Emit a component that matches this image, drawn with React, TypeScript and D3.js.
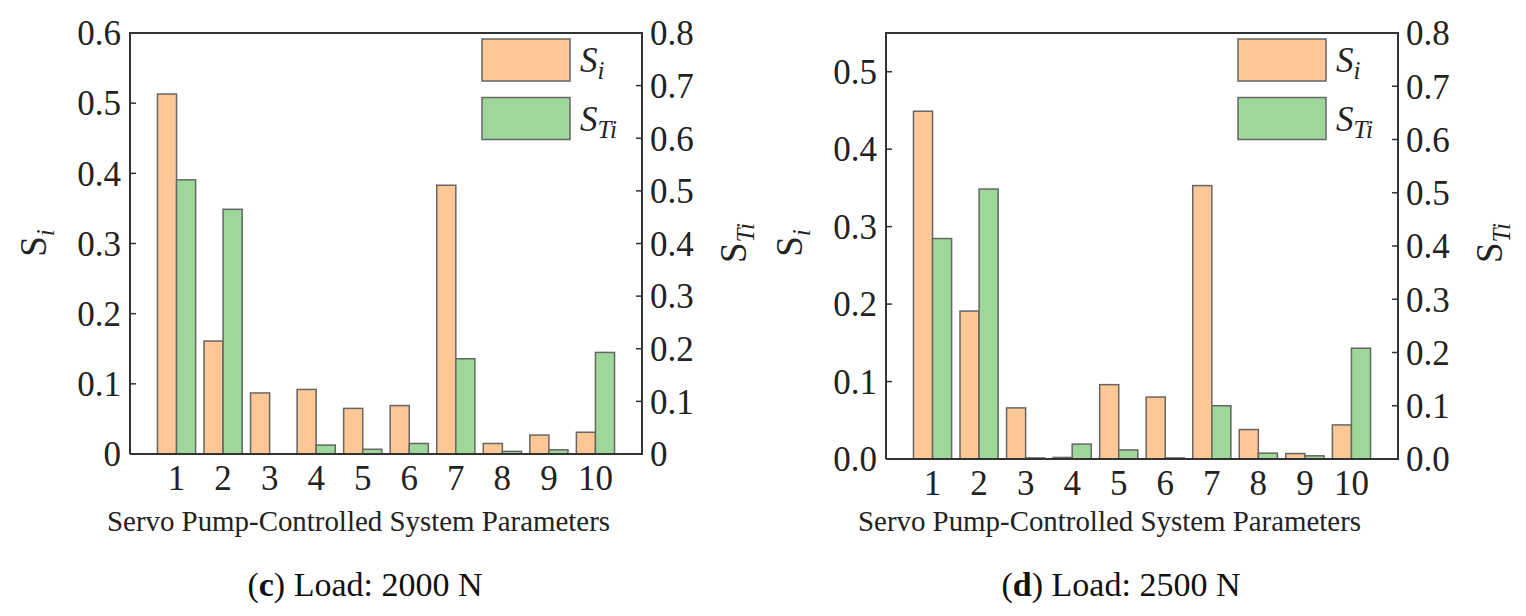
import { useEffect, useRef } from "react"
import * as d3 from "d3"

// parameter indices on the x axis
const params = ["1", "2", "3", "4", "5", "6", "7", "8", "9", "10"]

// (c) Load: 2000 N
const si2000 = [0.513, 0.161, 0.087, 0.092, 0.065, 0.069, 0.383, 0.015, 0.027, 0.031]
const sti2000 = [0.521, 0.465, 0.0, 0.017, 0.009, 0.02, 0.181, 0.005, 0.008, 0.193]

// (d) Load: 2500 N
const si2500 = [0.449, 0.191, 0.066, 0.002, 0.096, 0.08, 0.353, 0.038, 0.007, 0.044]
const sti2500 = [0.414, 0.507, 0.002, 0.028, 0.017, 0.002, 0.1, 0.011, 0.006, 0.208]

// tick values / labels
const leftTicks2000 = [0, 0.1, 0.2, 0.3, 0.4, 0.5, 0.6]
const leftLabels2000 = ["0", "0.1", "0.2", "0.3", "0.4", "0.5", "0.6"]
const rightTicks = [0, 0.1, 0.2, 0.3, 0.4, 0.5, 0.6, 0.7, 0.8]
const rightLabels2000 = ["0", "0.1", "0.2", "0.3", "0.4", "0.5", "0.6", "0.7", "0.8"]
const leftTicks2500 = [0, 0.1, 0.2, 0.3, 0.4, 0.5]
const leftLabels2500 = ["0.0", "0.1", "0.2", "0.3", "0.4", "0.5"]
const rightLabels2500 = ["0.0", "0.1", "0.2", "0.3", "0.4", "0.5", "0.6", "0.7", "0.8"]

const SI_COLOR = "#fdc896"
const STI_COLOR = "#9dd89a"
const FONT = "'Liberation Serif', 'Times New Roman', serif"

interface PanelConfig {
  x0: number
  x1: number
  top: number
  bottom: number
  leftMax: number
  si: number[]
  sti: number[]
  leftTicks: number[]
  leftLabels: string[]
  rightLabels: string[]
  letter: string
  load: string
  titleOffset: number
}

function drawPanel(root: d3.Selection<SVGSVGElement, unknown, null, undefined>, c: PanelConfig) {
  const g = root.append("g")

  const x = d3.scaleLinear().domain([0, 11]).range([c.x0, c.x1])
  const yL = d3.scaleLinear().domain([0, c.leftMax]).range([c.bottom, c.top])
  const yR = d3.scaleLinear().domain([0, 0.8]).range([c.bottom, c.top])
  const barW = x(0.41) - x(0)

  // Si bars (left axis)
  g.selectAll(".si")
    .data(c.si)
    .enter()
    .append("rect")
    .attr("x", (_, i) => x(i + 1) - barW)
    .attr("y", (d) => yL(d))
    .attr("width", barW)
    .attr("height", (d) => c.bottom - yL(d))
    .attr("fill", SI_COLOR)
    .attr("stroke", "#666")
    .attr("stroke-width", 1.5)

  // STi bars (right axis)
  g.selectAll(".sti")
    .data(c.sti)
    .enter()
    .append("rect")
    .attr("x", (_, i) => x(i + 1))
    .attr("y", (d) => yR(d))
    .attr("width", barW)
    .attr("height", (d) => c.bottom - yR(d))
    .attr("fill", STI_COLOR)
    .attr("stroke", "#666")
    .attr("stroke-width", 1.5)

  // frame: left, right, top, bottom
  g.append("path")
    .attr("d", `M${c.x0},${c.bottom}V${c.top}H${c.x1}V${c.bottom}H${c.x0}`)
    .attr("fill", "none")
    .attr("stroke", "#333")
    .attr("stroke-width", 2)

  // left ticks
  c.leftTicks.forEach((t, i) => {
    g.append("line")
      .attr("x1", c.x0)
      .attr("x2", c.x0 + 6)
      .attr("y1", yL(t))
      .attr("y2", yL(t))
      .attr("stroke", "#333")
      .attr("stroke-width", 1.5)
    g.append("text")
      .attr("x", c.x0 - 9)
      .attr("y", yL(t))
      .attr("dy", "0.35em")
      .attr("text-anchor", "end")
      .style("font-family", FONT)
      .style("font-size", "35px")
      .attr("fill", "#222")
      .text(c.leftLabels[i])
  })

  // right ticks
  rightTicks.forEach((t, i) => {
    g.append("line")
      .attr("x1", c.x1)
      .attr("x2", c.x1 - 6)
      .attr("y1", yR(t))
      .attr("y2", yR(t))
      .attr("stroke", "#333")
      .attr("stroke-width", 1.5)
    g.append("text")
      .attr("x", c.x1 + 8)
      .attr("y", yR(t))
      .attr("dy", "0.35em")
      .style("font-family", FONT)
      .style("font-size", "35px")
      .attr("fill", "#222")
      .text(c.rightLabels[i])
  })

  // x tick labels
  params.forEach((p, i) => {
    g.append("text")
      .attr("x", x(i + 1))
      .attr("y", c.bottom + 36)
      .attr("text-anchor", "middle")
      .style("font-family", FONT)
      .style("font-size", "35px")
      .attr("fill", "#222")
      .text(p)
  })

  // x axis title
  g.append("text")
    .attr("x", c.x0 + c.titleOffset)
    .attr("y", 531)
    .attr("textLength", 503)
    .attr("lengthAdjust", "spacingAndGlyphs")
    .style("font-family", FONT)
    .style("font-size", "29px")
    .attr("fill", "#222")
    .text("Servo Pump-Controlled System  Parameters")

  // caption
  const cap = g
    .append("text")
    .attr("x", (c.x0 + c.x1) / 2 - 21)
    .attr("y", 596)
    .attr("text-anchor", "middle")
    .style("font-family", FONT)
    .style("font-size", "34px")
    .attr("fill", "#111")
  cap.append("tspan").text("(")
  cap.append("tspan").style("font-weight", "bold").text(c.letter)
  cap.append("tspan").text(`) Load: ${c.load}`)

  // rotated y labels
  const yLabel = (cx: number, cy: number, sub: string) => {
    const t = g
      .append("text")
      .attr("transform", `translate(${cx},${cy}) rotate(-90)`)
      .attr("text-anchor", "middle")
      .attr("dy", "0.35em")
      .style("font-family", FONT)
      .style("font-size", "37px")
      .attr("fill", "#222")
    t.append("tspan").text("S")
    t.append("tspan")
      .attr("dy", 8)
      .style("font-size", "25px")
      .style("font-style", "italic")
      .text(sub)
  }
  yLabel(c.x0 - 97, 243, "i")
  yLabel(c.x1 + 91, 243, "Ti")

  // legend
  const legend = [
    { color: SI_COLOR, sub: "i", y: 39 },
    { color: STI_COLOR, sub: "Ti", y: 97.5 },
  ]
  legend.forEach((l) => {
    g.append("rect")
      .attr("x", c.x1 - 160)
      .attr("y", l.y)
      .attr("width", 88)
      .attr("height", 42)
      .attr("fill", l.color)
      .attr("stroke", "#666")
      .attr("stroke-width", 1.5)
    const t = g
      .append("text")
      .attr("x", c.x1 - 62)
      .attr("y", l.y + 33)
      .style("font-family", FONT)
      .style("font-size", "35px")
      .style("font-style", "italic")
      .attr("fill", "#222")
    t.append("tspan").text("S")
    t.append("tspan").attr("dy", 7).style("font-size", "25px").text(l.sub)
  })
}

export default function App() {
  const svgRef = useRef<SVGSVGElement>(null)

  useEffect(() => {
    if (!svgRef.current) return
    document.body.style.margin = "0"
    const svg = d3.select(svgRef.current)
    svg.selectAll("*").remove()

    drawPanel(svg, {
      x0: 130,
      x1: 642,
      top: 33,
      bottom: 454,
      leftMax: 0.6,
      si: si2000,
      sti: sti2000,
      leftTicks: leftTicks2000,
      leftLabels: leftLabels2000,
      rightLabels: rightLabels2000,
      letter: "c",
      load: "2000 N",
      titleOffset: -23,
    })

    drawPanel(svg, {
      x0: 886,
      x1: 1398,
      top: 33,
      bottom: 459,
      leftMax: 0.55,
      si: si2500,
      sti: sti2500,
      leftTicks: leftTicks2500,
      leftLabels: leftLabels2500,
      rightLabels: rightLabels2500,
      letter: "d",
      load: "2500 N",
      titleOffset: -28,
    })
  }, [])

  return (
    <svg ref={svgRef} width={1526} height={616} style={{ display: "block", background: "#fff" }}></svg>
  )
}
